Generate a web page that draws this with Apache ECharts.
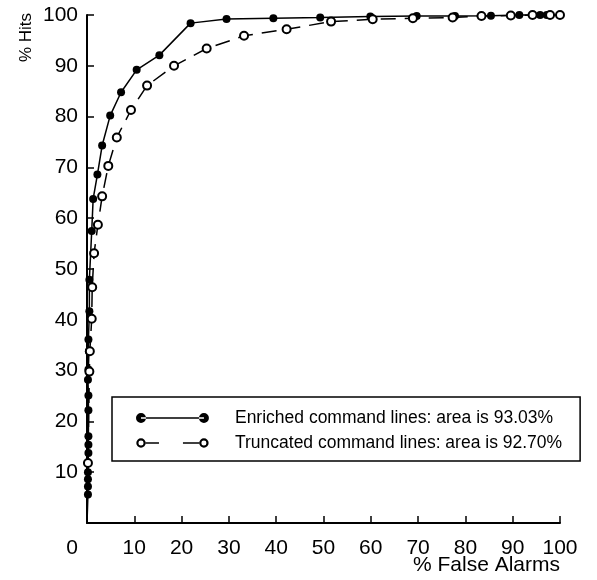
<!DOCTYPE html>
<html>
<head>
<meta charset="utf-8">
<script src="https://cdn.jsdelivr.net/npm/echarts@6/dist/echarts.min.js"></script>
<style>
  html, body { margin: 0; padding: 0; background: #fff; }
  #chart { width: 597px; height: 580px; }
</style>
</head>
<body>
<div id="chart"></div>
<script>
// % false alarms / % hits
var enrichedFA = [0, 0.2, 0.2, 0.2, 0.2, 0.3, 0.3, 0.3, 0.3, 0.3, 0.2, 0.3, 0.4, 0.3, 0.5, 0.5, 1.0, 1.3, 2.2, 3.2, 4.9, 7.2, 10.5, 15.3, 21.9, 29.5, 39.4, 49.3, 59.9, 69.7, 77.8, 85.4, 91.4, 95.8, 97.2];
var enrichedHits = [0, 5.6, 7.2, 8.6, 10.0, 13.8, 15.4, 17.1, 22.2, 25.1, 28.2, 30.2, 33.8, 36.1, 41.7, 47.9, 57.5, 63.8, 68.6, 74.3, 80.2, 84.8, 89.2, 92.1, 98.4, 99.2, 99.35, 99.5, 99.7, 99.8, 99.8, 99.85, 100, 100, 100];

var truncatedFA = [0, 0.2, 0.5, 0.6, 1.0, 1.1, 1.5, 2.3, 3.2, 4.5, 6.3, 9.3, 12.7, 18.4, 25.3, 33.2, 42.2, 51.6, 60.4, 68.9, 77.3, 83.4, 89.6, 94.2, 97.9, 100];
var truncatedHits = [0, 11.8, 29.8, 33.8, 40.2, 46.4, 53.1, 58.7, 64.3, 70.3, 75.9, 81.3, 86.1, 90.0, 93.4, 95.9, 97.2, 98.7, 99.15, 99.35, 99.5, 99.8, 99.9, 100, 100, 100];

var seriesNames = ['Enriched command lines: area is 93.03%', 'Truncated command lines: area is 92.70%'];

var font = 'Liberation Sans, Arial, sans-serif';

function toPoints(xs, ys) {
  return xs.map(function (x, i) {
    // the (0,0) start has no marker
    if (i === 0) return { value: [x, ys[i]], symbol: 'none' };
    return [x, ys[i]];
  });
}

// legend icons: line with a marker at each end, blank tail pushes text right
var iconFilled = 'path://M0,5A5,5 0 1,0 10,5A5,5 0 1,0 0,5Z' +
  'M63,5A5,5 0 1,0 73,5A5,5 0 1,0 63,5Z' +
  'M5,4.25L68,4.25L68,5.75L5,5.75Z M94,5L94,5.01Z M0,0L0,0.01Z M0,10L0,10.01Z';
var iconOpen = 'path://M0.3,5A4.7,4.7 0 1,0 9.7,5A4.7,4.7 0 1,0 0.3,5Z M2.5,5A2.5,2.5 0 1,1 7.5,5A2.5,2.5 0 1,1 2.5,5Z' +
  'M63.3,5A4.7,4.7 0 1,0 72.7,5A4.7,4.7 0 1,0 63.3,5Z M65.5,5A2.5,2.5 0 1,1 70.5,5A2.5,2.5 0 1,1 65.5,5Z' +
  'M9.5,4.25L23,4.25L23,5.75L9.5,5.75Z M47,4.25L63.5,4.25L63.5,5.75L47,5.75Z M94,5L94,5.01Z M0,0L0,0.01Z M0,10L0,10.01Z';

var myChart = echarts.init(document.getElementById('chart'));
var option = {
  animation: false,
  backgroundColor: '#fff',
  grid: { left: 87, right: 37, top: 15, bottom: 57 },
  xAxis: {
    type: 'value', min: 0, max: 100, interval: 10,
    axisLine: { lineStyle: { color: '#000', width: 2 } },
    axisTick: { inside: true, length: 7, lineStyle: { color: '#000', width: 1.5 } },
    splitLine: { show: false },
    axisLabel: {
      color: '#000', fontSize: 21, fontFamily: font, margin: 15,
      formatter: function (v) { return v === 0 ? '{z|0}' : String(v); },
      rich: { z: { color: '#000', fontSize: 21, fontFamily: font, padding: [0, 30, 0, 0] } }
    }
  },
  yAxis: {
    type: 'value', min: 0, max: 100, interval: 10,
    axisLine: { lineStyle: { color: '#000', width: 2 } },
    axisTick: { inside: true, length: 7, lineStyle: { color: '#000', width: 1.5 } },
    splitLine: { show: false },
    axisLabel: {
      color: '#000', fontSize: 21, fontFamily: font, margin: 9,
      formatter: function (v) { return v === 0 ? '' : String(v); }
    }
  },
  legend: {
    orient: 'vertical', left: 112, top: 397,
    padding: [12, 18, 9, 24], itemGap: 7,
    itemWidth: 94, itemHeight: 10,
    borderColor: '#000', borderWidth: 1.5,
    selectedMode: false,
    textStyle: { color: '#000', fontSize: 17.5, fontFamily: font },
    data: [
      { name: seriesNames[0], icon: iconFilled, itemStyle: { color: '#000', borderWidth: 0 } },
      { name: seriesNames[1], icon: iconOpen, itemStyle: { color: '#000', borderWidth: 0 } }
    ]
  },
  graphic: [
    {
      type: 'text', x: 26, y: 13, rotation: Math.PI / 2,
      style: { text: '% Hits', fill: '#000', font: '17px ' + font, align: 'right', verticalAlign: 'middle' }
    },
    {
      type: 'text', x: 560, y: 565,
      style: { text: '% False Alarms', fill: '#000', font: '21px ' + font, align: 'right', verticalAlign: 'middle' }
    }
  ],
  series: [
    {
      name: seriesNames[0], type: 'line',
      data: toPoints(enrichedFA, enrichedHits),
      symbol: 'circle', symbolSize: 8,
      itemStyle: { color: '#000' },
      lineStyle: { color: '#000', width: 1.5 },
      clip: false
    },
    {
      name: seriesNames[1], type: 'line',
      data: toPoints(truncatedFA, truncatedHits),
      symbol: 'emptyCircle', symbolSize: 8,
      itemStyle: { color: '#000', borderWidth: 2 },
      lineStyle: { color: '#000', width: 1.5, type: [15, 9] },
      clip: false
    }
  ]
};
myChart.setOption(option);
</script>
</body>
</html>
